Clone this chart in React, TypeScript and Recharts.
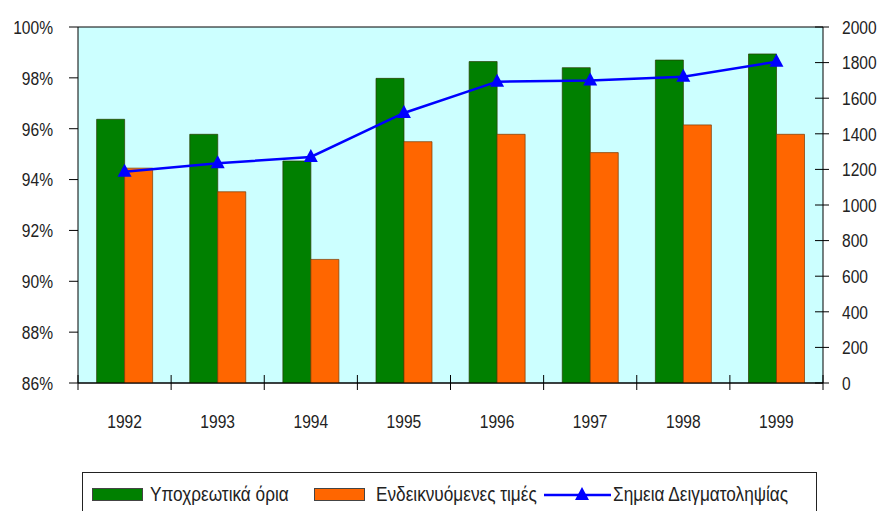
import React from 'react';
import { ComposedChart, Bar, Line, XAxis, YAxis, CartesianGrid, Legend } from 'recharts';

const years = ['1992', '1993', '1994', '1995', '1996', '1997', '1998', '1999'];
const mandatoryLimits = [96.37, 95.78, 94.73, 97.98, 98.64, 98.4, 98.7, 98.94];
const indicativeValues = [94.45, 93.52, 90.86, 95.49, 95.78, 95.06, 96.15, 95.78];
const samplingPoints = [1187, 1234, 1270, 1517, 1693, 1700, 1721, 1805];
const percentTicks = [86, 88, 90, 92, 94, 96, 98, 100];
const countTicks = [0, 200, 400, 600, 800, 1000, 1200, 1400, 1600, 1800, 2000];

const seriesNames = ['Υποχρεωτικά όρια', 'Ενδεικνυόμενες τιμές', 'Σημεια Δειγματοληψίας'];

const data = years.map((year, i) => ({
  year,
  mandatory: mandatoryLimits[i],
  indicative: indicativeValues[i],
  points: samplingPoints[i],
}));

const FONT = '"Liberation Sans", Arial, sans-serif';
const TEXT = '#222';
const GREEN = '#008000';
const ORANGE = '#FF6600';
const BLUE = '#0000FF';
// the original uses a condensed face, squeeze the regular one
const SQUEEZE = 0.82;

const NarrowText = ({ x, y, anchor, children }: any) => (
  <text
    transform={`translate(${x},${y}) scale(${SQUEEZE},1)`}
    dy="0.36em"
    textAnchor={anchor}
    fontSize={19}
    fontFamily={FONT}
    fill={TEXT}
  >
    {children}
  </text>
);

const LeftTick = (props: any) => {
  const { x, y, payload } = props;
  return (
    <g>
      <line x1={x - 9} x2={x} y1={y} y2={y} stroke="#000" />
      <NarrowText x={x - 25} y={y} anchor="end">{payload.value}%</NarrowText>
    </g>
  );
};

const RightTick = (props: any) => {
  const { x, y, payload } = props;
  return (
    <g>
      <line x1={x - 8} x2={x + 6} y1={y} y2={y} stroke="#000" />
      <NarrowText x={x + 19} y={y} anchor="start">{payload.value}</NarrowText>
    </g>
  );
};

const YearTick = (props: any) => {
  const { x, y, payload, index } = props;
  const half = payload.offset || 0;
  return (
    <g>
      <line x1={x - half} x2={x - half} y1={y - 8} y2={y + 7} stroke="#000" />
      {index === years.length - 1 && (
        <line x1={x + half} x2={x + half} y1={y - 8} y2={y + 7} stroke="#000" />
      )}
      <NarrowText x={x} y={y + 38} anchor="middle">{payload.value}</NarrowText>
    </g>
  );
};

const Triangle = (props: any) => {
  const { cx, cy } = props;
  if (cx == null || cy == null) return null;
  return <polygon points={`${cx},${cy - 8} ${cx - 7},${cy + 5} ${cx + 7},${cy + 5}`} fill={BLUE} />;
};

const LegendBox = () => {
  const label = {
    position: 'absolute' as const,
    top: 0,
    lineHeight: '43px',
    fontSize: 20,
    fontFamily: FONT,
    color: TEXT,
    whiteSpace: 'nowrap' as const,
    transform: 'scaleX(0.86)',
    transformOrigin: 'left center',
  };
  const swatch = (color: string, left: number) => (
    <div style={{ position: 'absolute', left, top: 15, width: 51, height: 13, background: color, border: '1px solid #444', boxSizing: 'border-box' }} />
  );
  return (
    <div style={{ position: 'relative', width: 735, height: 45, border: '1.5px solid #222', boxSizing: 'border-box', background: '#fff' }}>
      {swatch(GREEN, 9)}
      <span style={{ ...label, left: 67 }}>{seriesNames[0]}</span>
      {swatch(ORANGE, 231)}
      <span style={{ ...label, left: 293 }}>{seriesNames[1]}</span>
      <svg style={{ position: 'absolute', left: 461, top: 10 }} width={67} height={24}>
        <line x1={0} x2={67} y1={12} y2={12} stroke={BLUE} strokeWidth={2.5} />
        <polygon points="38,4 31,17 45,17" fill={BLUE} />
      </svg>
      <span style={{ ...label, left: 530 }}>{seriesNames[2]}</span>
    </div>
  );
};

export default function App() {
  return (
    <div style={{ position: 'absolute', left: 0, top: 0, background: '#fff' }}>
      <ComposedChart
        width={880}
        height={511}
        data={data}
        margin={{ top: 27, right: 0, left: 0, bottom: 0 }}
        barCategoryGap="20%"
        barGap={0}
      >
        <CartesianGrid horizontal vertical={false} stroke="#000" fill="#CCFFFF" fillOpacity={1} />
        <XAxis
          dataKey="year"
          height={83}
          axisLine={{ stroke: '#000' }}
          tickLine={false}
          tickSize={0}
          tickMargin={0}
          tick={<YearTick />}
          interval={0}
        />
        <YAxis
          yAxisId="pct"
          orientation="left"
          width={78}
          domain={[86, 100]}
          ticks={percentTicks}
          allowDataOverflow
          axisLine={{ stroke: '#000' }}
          tickLine={false}
          tickSize={0}
          tickMargin={0}
          tick={<LeftTick />}
          interval={0}
        />
        <YAxis
          yAxisId="cnt"
          orientation="right"
          width={57}
          domain={[0, 2000]}
          ticks={countTicks}
          axisLine={{ stroke: '#000' }}
          tickLine={false}
          tickSize={0}
          tickMargin={0}
          tick={<RightTick />}
          interval={0}
        />
        <Bar yAxisId="pct" dataKey="mandatory" name={seriesNames[0]} fill={GREEN} stroke="#2a3a00" strokeWidth={0.7} isAnimationActive={false} />
        <Bar yAxisId="pct" dataKey="indicative" name={seriesNames[1]} fill={ORANGE} stroke="#7a3a00" strokeWidth={0.7} isAnimationActive={false} />
        <Line
          yAxisId="cnt"
          dataKey="points"
          name={seriesNames[2]}
          stroke={BLUE}
          strokeWidth={2.5}
          dot={<Triangle />}
          activeDot={false}
          isAnimationActive={false}
        />
        <Legend
          content={<LegendBox />}
          wrapperStyle={{ left: 82, top: 472, width: 735, height: 45 }}
        />
      </ComposedChart>
    </div>
  );
}
